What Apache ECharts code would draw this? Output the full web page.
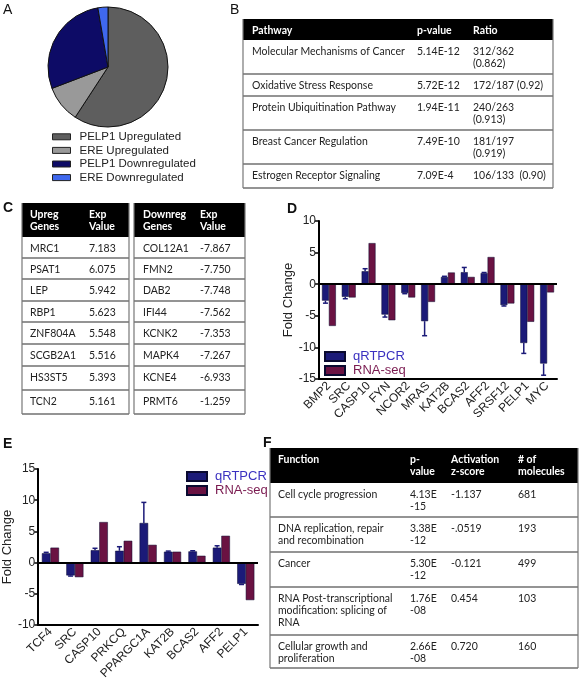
<!DOCTYPE html>
<html><head><meta charset="utf-8">
<script src="https://cdn.jsdelivr.net/npm/echarts@6/dist/echarts.min.js"></script>
<style>html,body{margin:0;padding:0;background:#fff}#c{width:580px;height:682px}</style>
</head><body><div id="c"></div>
<script>
// ---------- Panel A data ----------
const pieNames = ['PELP1 Upregulated', 'ERE Upregulated', 'PELP1 Downregulated', 'ERE Downregulated'];
const pieValues = [59.2, 10.0, 28.1, 2.7];
// ---------- Panel B data ----------
const pathwayHeader = [['Pathway'], ['p-value'], ['Ratio']];
const pathwayNames = ['Molecular Mechanisms of Cancer', 'Oxidative Stress Response', 'Protein Ubiquitination Pathway', 'Breast Cancer Regulation', 'Estrogen Receptor Signaling'];
const pathwayP = ['5.14E-12', '5.72E-12', '1.94E-11', '7.49E-10', '7.09E-4'];
const pathwayRatio = [['312/362', '(0.862)'], ['172/187 (0.92)'], ['240/263', '(0.913)'], ['181/197', '(0.919)'], ['106/133  (0.90)']];
// ---------- Panel C data ----------
const upHeader = [['Upreg', 'Genes'], ['Exp', 'Value']];
const upGenes = ['MRC1', 'PSAT1', 'LEP', 'RBP1', 'ZNF804A', 'SCGB2A1', 'HS3ST5', 'TCN2'];
const upValues = ['7.183', '6.075', '5.942', '5.623', '5.548', '5.516', '5.393', '5.161'];
const downHeader = [['Downreg', 'Genes'], ['Exp', 'Value']];
const downGenes = ['COL12A1', 'FMN2', 'DAB2', 'IFI44', 'KCNK2', 'MAPK4', 'KCNE4', 'PRMT6'];
const downValues = ['-7.867', '-7.750', '-7.748', '-7.562', '-7.353', '-7.267', '-6.933', '-1.259'];
// ---------- Panel D data ----------
const dGenes = ['BMP2', 'SRC', 'CASP10', 'FYN', 'NCOR2', 'MRAS', 'KAT2B', 'BCAS2', 'AFF2', 'SRSF12', 'PELP1', 'MYC'];
const dQrt = [-2.6, -2.0, 2.05, -4.8, -1.4, -5.85, 1.15, 1.9, 1.75, -3.3, -9.3, -12.55];
const dQrtErr = [0.4, 0.3, 0.4, 0.4, 0.1, 2.3, 0.1, 0.75, 0.1, 0.15, 1.65, 1.85];
const dRna = [-6.6, -2.1, 6.5, -5.7, -2.1, -2.8, 1.85, 1.15, 4.3, -3.05, -5.95, -1.3];
// ---------- Panel E data ----------
const eGenes = ['TCF4', 'SRC', 'CASP10', 'PRKCQ', 'PPARGC1A', 'KAT2B', 'BCAS2', 'AFF2', 'PELP1'];
const eQrt = [1.5, -2.05, 2.0, 1.9, 6.35, 1.75, 1.8, 2.4, -3.4];
const eQrtErr = [0.15, 0.1, 0.3, 0.65, 3.3, 0.1, 0.1, 0.3, 0.1];
const eRna = [2.4, -2.33, 6.5, 3.5, 2.85, 1.75, 1.1, 4.3, -6.0];
const seriesNames = ['qRTPCR', 'RNA-seq'];
// ---------- Panel F data ----------
const fnHeader = [['Function'], ['p-', 'value'], ['Activation', 'z-score'], ['# of', 'molecules']];
const fnNames = [['Cell cycle progression'], ['DNA replication, repair', 'and recombination'], ['Cancer'], ['RNA Post-transcriptional', 'modification: splicing of', 'RNA'], ['Cellular growth and', 'proliferation']];
const fnP = [['4.13E', '-15'], ['3.38E', '-12'], ['5.30E', '-12'], ['1.76E', '-08'], ['2.66E', '-08']];
const fnZ = ['-1.137', '-.0519', '-0.121', '0.454', '0.720'];
const fnN = ['681', '193', '499', '103', '160'];
// ---------- Panel letters ----------
const panelLetters = ['A', 'B', 'C', 'D', 'E', 'F'];

// ================= styling / layout =================
const TFONT = 'Lato';
// fit the table font so the longest pathway name spans ~152px, close to the reference
const TSIZE = (function () {
  const ctx = document.createElement('canvas').getContext('2d');
  ctx.font = '12px ' + TFONT;
  const w = ctx.measureText(pathwayNames[0]).width;
  return Math.max(10, Math.min(12.5, 12 * 153 / w));
})();
const QRT_COLOR = '#1b1a78';
const RNA_COLOR = '#6a1242';
const pieColors = ['#5e5e5e', '#999999', '#0d0b66', '#3f68ee'];

function textEl(lines, x, rowTop, header) {
  return {
    type: 'text', x: x, y: rowTop + 5.5, silent: true,
    style: {
      text: lines.join('\n'), fontSize: TSIZE, fontFamily: TFONT,
      fontWeight: header ? 'bold' : 'normal', fill: header ? '#fff' : '#222',
      lineHeight: 12, verticalAlign: 'top', align: 'left'
    }
  };
}
function buildTable(geom, header, rows) {
  const els = [];
  const y = geom.rowY;
  els.push({ type: 'rect', silent: true, shape: { x: geom.x0, y: y[0], width: geom.x1 - geom.x0, height: y[1] - y[0] }, style: { fill: '#000' } });
  header.forEach((lines, c) => els.push(textEl(lines, geom.cols[c], y[0], true)));
  rows.forEach((row, r) => row.forEach((lines, c) => els.push(textEl(lines, geom.cols[c], y[r + 1], false))));
  for (let r = 2; r < y.length; r++) {
    els.push({ type: 'line', silent: true, shape: { x1: geom.x0, y1: y[r], x2: geom.x1, y2: y[r] }, style: { stroke: '#707070', lineWidth: 1.6 } });
  }
  [geom.x0, geom.x1].forEach(xx => els.push({ type: 'line', silent: true, shape: { x1: xx, y1: y[0], x2: xx, y2: y[y.length - 1] }, style: { stroke: '#777', lineWidth: 1.2 } }));
  return els;
}

const tableB = buildTable({ x0: 243, x1: 553, cols: [252, 417, 473], rowY: [19, 40, 74, 96, 130, 164, 188] },
  pathwayHeader, pathwayNames.map((n, i) => [[n], [pathwayP[i]], pathwayRatio[i]]));
const cRowY = [203, 237, 258, 279, 301, 322, 344, 366, 390, 414];
const tableC1 = buildTable({ x0: 22, x1: 129, cols: [30, 89], rowY: cRowY },
  upHeader, upGenes.map((g, i) => [[g], [upValues[i]]]));
const tableC2 = buildTable({ x0: 134, x1: 245, cols: [143, 200], rowY: cRowY },
  downHeader, downGenes.map((g, i) => [[g], [downValues[i]]]));
const tableF = buildTable({ x0: 270, x1: 578, cols: [278, 410, 451, 518], rowY: [448, 483, 517, 552, 587, 635, 668] },
  fnHeader, fnNames.map((n, i) => [n, fnP[i], [fnZ[i]], [fnN[i]]]));

const letterPos = [[3, 3, 'normal'], [230, 3, 'normal'], [3, 201, 'bold'], [287, 202, 'bold'], [3, 437, 'bold'], [263, 436, 'bold']];
const letters = panelLetters.map((L, i) => ({
  type: 'text', x: letterPos[i][0], y: letterPos[i][1], silent: true,
  style: { text: L, fontSize: 14, fontWeight: letterPos[i][2], fontFamily: 'Liberation Sans', fill: '#111', verticalAlign: 'top' }
}));

function errRender(params, api) {
  const v = api.value(1), e = api.value(2);
  if (!(e > 0)) return;
  const band = api.size([1, 0])[0];
  const c = api.coord([api.value(0), v]);
  const end = api.coord([api.value(0), v >= 0 ? v + e : v - e]);
  const x = c[0] - band * 0.175;
  const cw = 2.5;
  return {
    type: 'group', children: [
      { type: 'line', shape: { x1: x, y1: c[1], x2: x, y2: end[1] }, style: { stroke: QRT_COLOR, lineWidth: 1.5 } },
      { type: 'line', shape: { x1: x - cw, y1: end[1], x2: x + cw, y2: end[1] }, style: { stroke: QRT_COLOR, lineWidth: 1.5 } }
    ]
  };
}

function xAx(gi, data) {
  return {
    type: 'category', gridIndex: gi, data: data,
    axisLine: { onZero: false, lineStyle: { color: '#000', width: 2 } },
    axisTick: { show: false },
    axisLabel: { rotate: 45, interval: 0, fontSize: 12, color: '#222', margin: 5 }
  };
}
function yAx(gi, min, max, gap) {
  return {
    type: 'value', gridIndex: gi, min: min, max: max, interval: 5,
    splitLine: { show: false },
    axisLine: { show: true, lineStyle: { color: '#000', width: 2 } },
    axisTick: { show: true, length: 4, lineStyle: { color: '#000', width: 1.5 } },
    axisLabel: { fontSize: 12, color: '#222', margin: 3 },
    name: 'Fold Change', nameLocation: 'middle', nameRotate: 90, nameGap: gap,
    nameTextStyle: { fontSize: 13, color: '#222' }
  };
}
const zeroLine = { silent: true, symbol: 'none', label: { show: false }, lineStyle: { color: '#000', width: 2, type: 'solid' }, data: [{ yAxis: 0 }] };
function barSeries(name, data, gi, color, withZero) {
  const s = {
    type: 'bar', name: name, xAxisIndex: gi, yAxisIndex: gi, data: data,
    barWidth: '35%', barGap: '0%',
    itemStyle: { color: color, borderColor: '#0a0a30', borderWidth: 0.5 }
  };
  if (withZero) s.markLine = zeroLine;
  return s;
}
const legendSeries = seriesNames.map((n, i) => ({ name: n, itemStyle: { color: [QRT_COLOR, RNA_COLOR][i] }, textStyle: { color: ['#3a30c0', '#7a1a50'][i] } }));
function barLegend(left, top) {
  return {
    data: legendSeries, orient: 'vertical', left: left, top: top, icon: 'rect', padding: 0,
    itemWidth: 20, itemHeight: 9, itemGap: 1,
    textStyle: { fontSize: 13, lineHeight: 11, padding: [0, 0, 0, 3] }
  };
}

const chart = echarts.init(document.getElementById('c'));
chart.setOption({
  animation: false,
  textStyle: { fontFamily: 'Liberation Sans' },
  color: pieColors,
  legend: [
    {
      data: pieNames, orient: 'vertical', left: 52, top: 130, icon: 'rect', padding: 0,
      itemWidth: 18, itemHeight: 6, itemGap: 0,
      itemStyle: { borderColor: '#222', borderWidth: 1 },
      textStyle: { fontSize: 11.5, color: '#222', lineHeight: 13.6, padding: [0, 0, 0, 4] }
    },
    barLegend(324, 350),
    barLegend(186, 470)
  ],
  grid: [
    { left: 319, right: 23, top: 221, bottom: 303 },
    { left: 34, right: 322, top: 469, bottom: 54 }
  ],
  xAxis: [xAx(0, dGenes), xAx(1, eGenes)],
  yAxis: [yAx(0, -15, 10, 16), yAx(1, -10, 15, 19)],
  series: [
    {
      type: 'pie', center: [108, 67], radius: 60, startAngle: 90, clockwise: true,
      label: { show: false }, labelLine: { show: false }, silent: true,
      itemStyle: { borderColor: '#111', borderWidth: 1 },
      data: pieNames.map((n, i) => ({ name: n, value: pieValues[i], itemStyle: { color: pieColors[i] } }))
    },
    barSeries(seriesNames[0], dQrt, 0, QRT_COLOR, true),
    barSeries(seriesNames[1], dRna, 0, RNA_COLOR, false),
    {
      type: 'custom', name: 'errD', xAxisIndex: 0, yAxisIndex: 0, z: 5,
      renderItem: errRender, data: dGenes.map((g, i) => [i, dQrt[i], dQrtErr[i]])
    },
    barSeries(seriesNames[0], eQrt, 1, QRT_COLOR, true),
    barSeries(seriesNames[1], eRna, 1, RNA_COLOR, false),
    {
      type: 'custom', name: 'errE', xAxisIndex: 1, yAxisIndex: 1, z: 5,
      renderItem: errRender, data: eGenes.map((g, i) => [i, eQrt[i], eQrtErr[i]])
    }
  ],
  graphic: { elements: [].concat(letters, tableB, tableC1, tableC2, tableF) }
});
</script>
</body></html>
